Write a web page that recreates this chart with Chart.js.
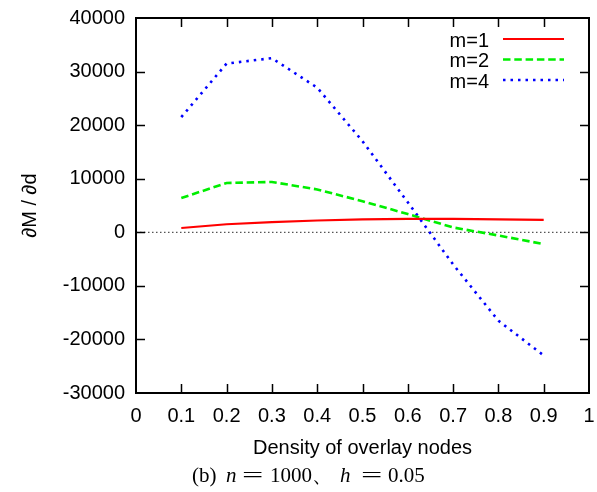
<!DOCTYPE html>
<html>
<head>
<meta charset="utf-8">
<script src="https://cdn.jsdelivr.net/npm/chart.js@4/dist/chart.umd.min.js"></script>
<style>
  html, body { margin: 0; padding: 0; background: #fff; }
  #wrap { position: relative; width: 597px; height: 492px; }
  #c { display: block; }
  #caption { position: absolute; left: 0; top: 463px; width: 597px; height: 26px; font-family: "Liberation Serif", "Times New Roman", serif; font-size: 21px; line-height: 24px; white-space: nowrap; color: #000; }
  #caption span { position: absolute; top: 0; }
  #caption i { font-style: italic; }
  #caption .eq { transform: scaleX(1.8); transform-origin: 0 0; }
</style>
</head>
<body>
<div id="wrap">
  <canvas id="c" width="597" height="492" style="width:597px;height:492px"></canvas>
  <div id="caption"><span style="left:192px">(b)</span><span style="left:226px"><i>n</i></span><span class="eq" style="left:242px">=</span><span style="left:270px">1000</span><span style="left:312px">、</span><span style="left:340px"><i>h</i></span><span class="eq" style="left:361px">=</span><span style="left:388px">0.05</span></div>
</div>
<script>
// ---- data ----
const densities = [0.1, 0.2, 0.3, 0.4, 0.5, 0.6, 0.7, 0.8, 0.9];
const seriesLabels = ["m=1", "m=2", "m=4"];
const m1Values = [800, 1500, 1900, 2200, 2400, 2500, 2500, 2400, 2300];
const m2Values = [6400, 9200, 9400, 8000, 5800, 3400, 900, -600, -2200];
const m4Values = [21500, 31500, 32500, 27000, 17000, 5600, -6000, -16500, -23000];
const xTicks = [0, 0.1, 0.2, 0.3, 0.4, 0.5, 0.6, 0.7, 0.8, 0.9, 1];
const yTicks = [-30000, -20000, -10000, 0, 10000, 20000, 30000, 40000];

const FONT = '"Liberation Sans", Arial, Helvetica, sans-serif';

function pts(vals) { return densities.map((d, i) => ({ x: d, y: vals[i] })); }

const styles = [
  { color: '#ff0000', width: 2.2, dash: [] },
  { color: '#00ee00', width: 2.6, dash: [7.5, 3.8] },
  { color: '#0000ff', width: 2.6, dash: [2.5, 5] }
];
const seriesValues = [m1Values, m2Values, m4Values];

const datasets = seriesLabels.map((lab, i) => ({
  label: lab,
  data: pts(seriesValues[i]),
  borderColor: styles[i].color,
  backgroundColor: styles[i].color,
  borderWidth: styles[i].width,
  borderDash: styles[i].dash,
  pointRadius: 0,
  tension: 0,
  fill: false
}));

const framePlugin = {
  id: 'frame',
  beforeDatasetsDraw(chart) {
    const { ctx, chartArea: a, scales: { y } } = chart;
    const y0 = y.getPixelForValue(0);
    ctx.save();
    ctx.strokeStyle = '#555';
    ctx.lineWidth = 1.2;
    ctx.setLineDash([1.5, 2.5]);
    ctx.beginPath();
    ctx.moveTo(a.left, y0);
    ctx.lineTo(a.right, y0);
    ctx.stroke();
    ctx.restore();
  },
  afterDatasetsDraw(chart) {
    const { ctx, chartArea: a, scales: { x, y } } = chart;
    const tl = 9;
    ctx.save();
    ctx.strokeStyle = '#000';
    ctx.lineWidth = 1.5;
    ctx.setLineDash([]);
    ctx.beginPath();
    xTicks.forEach(v => {
      if (v === 0 || v === 1) return;
      const px = Math.round(x.getPixelForValue(v)) + 0.5;
      ctx.moveTo(px, a.bottom); ctx.lineTo(px, a.bottom - tl);
      ctx.moveTo(px, a.top); ctx.lineTo(px, a.top + tl);
    });
    yTicks.forEach(v => {
      if (v === -30000 || v === 40000) return;
      const py = Math.round(y.getPixelForValue(v)) + 0.5;
      ctx.moveTo(a.left, py); ctx.lineTo(a.left + tl, py);
      ctx.moveTo(a.right, py); ctx.lineTo(a.right - tl, py);
    });
    ctx.stroke();
    ctx.lineWidth = 2;
    ctx.strokeRect(a.left, a.top, a.right - a.left, a.bottom - a.top);
    ctx.restore();
  },
  afterDraw(chart) {
    const { ctx } = chart;
    ctx.save();
    ctx.font = '20px ' + FONT;
    ctx.textAlign = 'right';
    ctx.textBaseline = 'middle';
    ctx.fillStyle = '#000';
    chart.data.datasets.forEach((ds, i) => {
      const cy = 40 + i * 20.5;
      ctx.fillText(ds.label, 489, cy + 1);
      ctx.strokeStyle = ds.borderColor;
      ctx.lineWidth = ds.borderWidth;
      ctx.setLineDash(ds.borderDash);
      ctx.beginPath();
      ctx.moveTo(503, cy - 1);
      ctx.lineTo(564, cy - 1);
      ctx.stroke();
    });
    ctx.restore();
  }
};

new Chart(document.getElementById('c'), {
  type: 'line',
  data: { datasets },
  options: {
    responsive: false,
    animation: false,
    events: [],
    layout: { padding: { left: 0, right: 8, top: 18, bottom: 0 } },
    plugins: { legend: { display: false }, tooltip: { enabled: false } },
    scales: {
      x: {
        type: 'linear',
        min: 0, max: 1,
        afterFit(s) { s.height = 99; s.paddingLeft = 0; s.paddingRight = 0; },
        afterBuildTicks(s) { s.ticks = xTicks.map(v => ({ value: v })); },
        grid: { display: false, drawTicks: false },
        border: { display: false },
        ticks: {
          padding: 11,
          color: '#000',
          font: { family: FONT, size: 20 },
          maxRotation: 0,
          autoSkip: false,
          callback: v => String(Math.round(v * 10) / 10)
        },
        title: {
          display: true,
          text: 'Density of overlay nodes',
          color: '#000',
          font: { family: FONT, size: 20 },
          padding: { top: 0, bottom: 32 }
        }
      },
      y: {
        type: 'linear',
        min: -30000, max: 40000,
        afterFit(s) { s.width = 136; s.paddingTop = 0; s.paddingBottom = 0; },
        afterBuildTicks(s) { s.ticks = yTicks.map(v => ({ value: v })); },
        grid: { display: false, drawTicks: false },
        border: { display: false },
        ticks: {
          padding: 11,
          color: '#000',
          font: { family: FONT, size: 20 },
          autoSkip: false,
          callback: v => String(v)
        },
        title: {
          display: true,
          text: '∂M / ∂d',
          color: '#000',
          font: { family: FONT, size: 20 },
          padding: { top: 18, bottom: 0 }
        }
      }
    }
  },
  plugins: [framePlugin]
});
</script>
</body>
</html>
